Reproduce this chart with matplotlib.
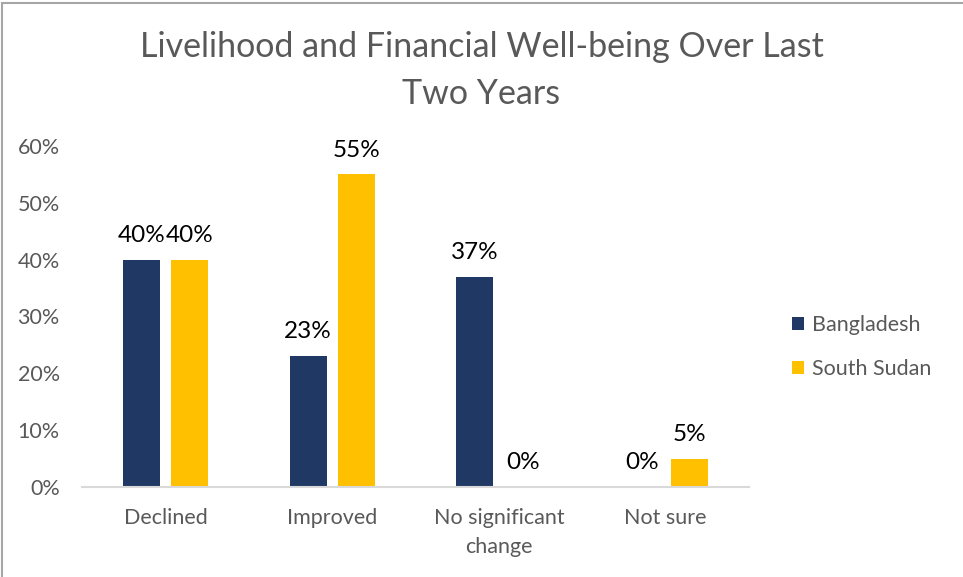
import matplotlib
matplotlib.use("Agg")
import matplotlib.pyplot as plt
from matplotlib.patches import Rectangle
import numpy as np

categories = ["Declined", "Improved", "No significant\nchange", "Not sure"]
bangladesh = [40, 23, 37, 0]
south_sudan = [40, 55, 0, 5]
yticks = [0, 10, 20, 30, 40, 50, 60]

navy = "#203864"
gold = "#FFC000"
grey_text = "#595959"

plt.rcParams["font.family"] = ["Lato", "DejaVu Sans"]

fig = plt.figure(figsize=(9.63, 5.77), dpi=100)
ax = fig.add_axes([82 / 963, 1 - 487 / 577, (749 - 82) / 963, (487 - 146) / 577])

x = np.arange(len(categories))
w = 0.222
off = 0.144
b1 = ax.bar(x - off, bangladesh, w, color=navy, label="Bangladesh")
b2 = ax.bar(x + off, south_sudan, w, color=gold, label="South Sudan")

for bars, vals in ((b1, bangladesh), (b2, south_sudan)):
    for r, v in zip(bars, vals):
        ax.annotate(f"{v}%", (r.get_x() + r.get_width() / 2, v),
                    xytext=(0, 10), textcoords="offset points",
                    ha="center", va="bottom", fontsize=17.5, color="#000000")

ax.set_xlim(-0.5, len(categories) - 0.5)
ax.set_ylim(0, 60)
ax.set_yticks(yticks)
ax.set_yticklabels([f"{t}%" for t in yticks])
ax.set_xticks(x)
ax.set_xticklabels(categories, linespacing=1.6)

for s in ("top", "right", "left"):
    ax.spines[s].set_visible(False)
ax.spines["bottom"].set_color("#D9D9D9")
ax.spines["bottom"].set_linewidth(1.5)
ax.tick_params(axis="both", length=0, labelsize=15.5, colors=grey_text)
ax.tick_params(axis="y", pad=16)
ax.tick_params(axis="x", pad=15)

fig.text(0.5, 1 - 47 / 577, "Livelihood and Financial Well-being Over Last",
         ha="center", va="center", fontsize=24.5, color=grey_text)
fig.text(0.5, 1 - 94 / 577, "Two Years",
         ha="center", va="center", fontsize=24.5, color=grey_text)

fig.legend(handles=[b1, b2], loc="center left",
           bbox_to_anchor=(773 / 963, 1 - 347 / 577), frameon=False,
           fontsize=15.5, labelcolor=grey_text, handlelength=0.55,
           handleheight=0.55, handletextpad=0.35, labelspacing=1.1)

fig.patches.append(Rectangle((1.5 / 963, -0.1), 2, 1.1 - 2.5 / 577,
                             transform=fig.transFigure, fill=False,
                             edgecolor="#A6A6A6", linewidth=1.5))

fig.savefig("out.png", dpi=100)
